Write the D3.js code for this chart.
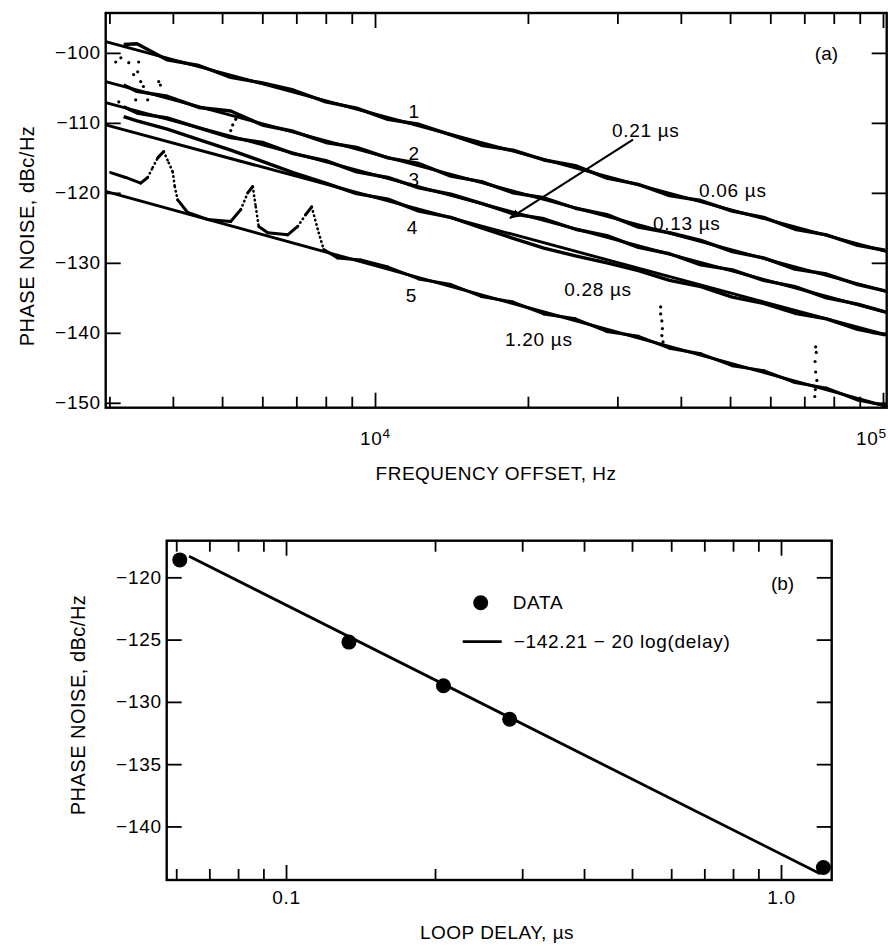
<!DOCTYPE html>
<html>
<head>
<meta charset="utf-8">
<script src="https://cdn.jsdelivr.net/npm/d3@7"></script>
<style>
  body { margin: 0; background: #fff; }
  svg text { font-family: "Liberation Sans", Arial, Helvetica, sans-serif; fill: #000; }
  .wide { letter-spacing: 0.7px; }
  .title { letter-spacing: 0.5px; }
</style>
</head>
<body>
<svg id="chart" width="888" height="948"></svg>
<script>
// ---------- panel (a): phase noise vs frequency offset ----------
var freqA = [3200, 3400, 3900, 4500, 5200, 6000, 6900, 8000, 9200, 10600, 12200, 14100, 16200,
             18700, 21500, 24800, 28600, 33000, 38000, 43800, 50500, 58200, 67100, 77400, 89200, 101000];
var trace1 = [-98.8, -98.7, -101.0, -101.8, -103.5, -104.3, -105.3, -107.0, -107.9, -109.5, -110.2, -111.7, -113.2,
              -113.9, -115.3, -116.1, -117.9, -118.8, -120.4, -121.1, -122.6, -123.5, -125.2, -126.0, -127.5, -128.2];
var trace2 = [-104.6, -105.5, -106.2, -107.8, -108.3, -110.3, -111.2, -112.8, -113.5, -115.0, -115.8, -117.6, -118.4,
              -120.0, -120.7, -122.2, -123.1, -124.9, -125.7, -126.8, -128.4, -129.3, -130.9, -131.6, -133.1, -134.0];
var trace3 = [-107.7, -108.6, -109.3, -110.7, -112.1, -112.8, -114.4, -115.4, -117.0, -117.8, -119.3, -120.2, -121.5,
              -123.0, -123.7, -125.2, -126.1, -127.8, -128.7, -130.3, -131.0, -132.5, -133.4, -135.0, -135.9, -137.0];
var trace4 = [-109.1, -109.7, -110.9, -112.4, -113.9, -115.5, -117.1, -118.6, -120.1, -120.9, -122.6, -123.5, -125.0,
              -126.5, -127.9, -129.0, -130.0, -131.1, -132.5, -133.4, -134.9, -135.8, -137.2, -138.0, -139.5, -140.3];
// trace 5 has its own sampling (the spur humps at the low end)
var freq5 = [3017, 3230, 3457, 3568, 3650, 3735, 3837, 3925, 3997, 4034, 4088, 4277, 4684, 5199, 5441, 5616,
             5745, 5824, 5903, 6149, 6731, 7044, 7304, 7505, 7747, 7925, 8443, 9372, 10600, 12200, 14100,
             16200, 18700, 21500, 24800, 28600, 33000, 38000, 43800, 50500, 58200, 67100, 77400, 89200, 101000];
var trace5 = [-117.1, -117.8, -118.6, -117.8, -116.4, -115.0, -114.1, -115.7, -117.0, -119.1, -121.0, -122.8,
              -123.8, -124.1, -122.4, -120.0, -119.1, -122.0, -124.8, -125.7, -126.0, -124.8, -123.1, -122.0,
              -125.7, -128.1, -129.3, -129.6, -130.6, -132.3, -133.1, -134.8, -135.6, -137.3, -138.0, -139.8,
              -140.5, -142.2, -143.0, -144.7, -145.4, -147.1, -147.9, -149.6, -150.4];

// straight reference lines through each trace (value at each end of the axis)
var fitF = [2950, 101700];
var fitStart = [-98.4, -104.1, -107.1, -110.3, -119.8];
var fitEnd = [-128.4, -134.1, -137.1, -140.3, -150.5];

// isolated spur points
var spurF = [3087, 3275, 3425, 3348, 3410, 3457, 3500, 3751, 3780, 3380, 3568, 3130, 3160,
             5129, 5199, 5246, 5318, 5365,
             36500, 36500, 36700, 36800, 36700, 36900,
             73700, 73900, 73500, 73700, 74100, 73600, 73400];
var spurV = [-101.3, -101.4, -101.3, -103.1, -102.7, -104.1, -104.8, -104.1, -104.6, -106.7, -106.7, -107.0, -100.7,
             -112.0, -111.1, -110.3, -109.5, -109.1,
             -136.3, -137.3, -138.3, -139.4, -140.4, -141.3,
             -142.0, -142.8, -144.1, -145.6, -146.8, -148.1, -149.1];

var traceNums = ["1", "2", "3", "4", "5"];
var delayText = ["0.06 µs", "0.13 µs", "0.21 µs", "0.28 µs", "1.20 µs"];

var aTicksX = [3000, 4000, 5000, 6000, 7000, 8000, 9000, 10000, 20000, 30000, 40000, 50000, 60000, 70000, 80000, 90000, 100000];
var aTicksY = [-150, -140, -130, -120, -110, -100];

// ---------- panel (b): phase noise vs loop delay ----------
var delays = [0.061, 0.134, 0.208, 0.283, 1.218];
var noiseB = [-118.6, -125.2, -128.7, -131.4, -143.3];
var fitDelay = [0.0637, 1.20];
var fitNoise = [-118.3, -143.8];   // -142.21 - 20 log(delay)
var bTicksX = [0.06, 0.07, 0.08, 0.09, 0.1, 0.2, 0.3, 0.4, 0.5, 0.6, 0.7, 0.8, 0.9, 1.0];
var bTicksY = [-140, -135, -130, -125, -120];

var svg = d3.select("#chart");
var INK = "#000";
var FONT = 19;

var xa = d3.scaleLog().domain([2950, 101700]).range([105.7, 886.7]);
var ya = d3.scaleLinear().domain([-150.7, -94.3]).range([407.7, 13]);
var xb = d3.scaleLog().domain([0.0574, 1.266]).range([166.7, 831.7]);
var yb = d3.scaleLinear().domain([-144.3, -117.06]).range([880, 540.7]);

// frame + inward ticks on all four sides
function drawFrame(x, y, xt, xMajor, yt, labY, xlabFmt) {
  var x0 = x.range()[0], x1 = x.range()[1], y0 = y.range()[0], y1 = y.range()[1];
  var g = svg.append("g");

  function style(ax) {
    ax.select(".domain").remove();
    ax.selectAll("line").attr("stroke", INK).attr("stroke-width", 1.8);
    ax.selectAll("text").attr("font-size", FONT).attr("font-family", null).attr("fill", INK)
      .attr("class", "wide");
  }

  var left = g.append("g").attr("transform", "translate(" + x0 + ",0)")
    .call(d3.axisLeft(y).tickValues(yt).tickSizeInner(-15).tickSizeOuter(0).tickPadding(5)
      .tickFormat(function (d) { return "\u2212" + Math.abs(d); }));
  style(left);
  var right = g.append("g").attr("transform", "translate(" + x1 + ",0)")
    .call(d3.axisRight(y).tickValues(yt).tickSizeInner(-15).tickSizeOuter(0).tickFormat(""));
  style(right);

  var bottom = g.append("g").attr("transform", "translate(0," + y0 + ")")
    .call(d3.axisBottom(x).tickValues(xt).tickSizeOuter(0).tickFormat(""));
  var top = g.append("g").attr("transform", "translate(0," + y1 + ")")
    .call(d3.axisTop(x).tickValues(xt).tickSizeOuter(0).tickFormat(""));
  [bottom, top].forEach(function (ax, i) {
    style(ax);
    ax.selectAll(".tick line").attr("y2", function (d) {
      var len = xMajor.indexOf(d) >= 0 ? 15 : 11;
      return i === 0 ? -len : len;
    });
  });
  bottom.selectAll(".tick").filter(function (d) { return xMajor.indexOf(d) >= 0; })
    .select("text").attr("y", labY).each(xlabFmt);

  g.append("rect")
    .attr("x", x0).attr("y", y1).attr("width", x1 - x0).attr("height", y0 - y1)
    .attr("fill", "none").attr("stroke", INK).attr("stroke-width", 2.4);
  return g;
}

// ---------- panel (a) ----------
drawFrame(xa, ya, aTicksX, [10000, 100000], aTicksY, 24, function (d) {
  var t = d3.select(this).text("10");
  if (d === 100000) t.attr("dx", -12);
  t.append("tspan").attr("dy", "-0.55em").attr("font-size", "0.72em").text(Math.round(Math.log10(d)));
});

var plotA = svg.append("g");
var lineA = d3.line().x(function (d) { return xa(d[0]); }).y(function (d) { return ya(d[1]); });

fitStart.forEach(function (v, i) {
  plotA.append("path")
    .attr("d", lineA([[fitF[0], v], [fitF[1], fitEnd[i]]]))
    .attr("fill", "none").attr("stroke", INK).attr("stroke-width", 2.9);
});

[trace1, trace2, trace3, trace4].forEach(function (tr) {
  plotA.append("path")
    .attr("d", lineA(freqA.map(function (f, j) { return [f, tr[j]]; })))
    .attr("fill", "none").attr("stroke", INK).attr("stroke-width", 3.4)
    .attr("stroke-linejoin", "round");
});

// trace 5: steep flanks of the spurs were plotted as sparse dots
var pts5 = freq5.map(function (f, j) { return [f, trace5[j]]; });
d3.pairs(pts5).forEach(function (p) {
  var dx = Math.abs(xa(p[1][0]) - xa(p[0][0])), dy = Math.abs(ya(p[1][1]) - ya(p[0][1]));
  var steep = dy > 1.3 * dx;
  plotA.append("path")
    .attr("d", lineA(p))
    .attr("fill", "none").attr("stroke", INK)
    .attr("stroke-width", steep ? 2.6 : 3.0)
    .attr("stroke-linecap", "round")
    .attr("stroke-dasharray", steep ? "0.5,4" : null);
});

plotA.selectAll("circle.spur")
  .data(spurF.map(function (f, j) { return [f, spurV[j]]; }))
  .enter().append("circle")
  .attr("class", "spur")
  .attr("cx", function (d) { return xa(d[0]); })
  .attr("cy", function (d) { return ya(d[1]); })
  .attr("r", 1.6).attr("fill", INK);

// trace numbers and delay labels (anchored in data units)
var numPos = [[11920, -108.4], [11920, -114.3], [11920, -118.1], [11830, -125.0], [11770, -134.7]];
traceNums.forEach(function (t, i) {
  plotA.append("text").attr("x", xa(numPos[i][0])).attr("y", ya(numPos[i][1]))
    .attr("dy", "0.35em").attr("text-anchor", "middle").attr("font-size", FONT).text(t);
});
var delayPos = [[43430, -119.7, "start"], [35250, -124.3, "start"], [34120, -111.0, "middle"],
                [27480, -133.8, "middle"], [18030, -141.0, "start"]];
delayText.forEach(function (t, i) {
  plotA.append("text").attr("x", xa(delayPos[i][0])).attr("y", ya(delayPos[i][1]))
    .attr("dy", "0.35em").attr("text-anchor", delayPos[i][2]).attr("font-size", FONT)
    .attr("class", "wide").text(t);
});
plotA.append("text").attr("x", xa(77390)).attr("y", ya(-100)).attr("dy", "0.35em")
  .attr("text-anchor", "middle").attr("font-size", FONT).text("(a)");

// arrow pointing at trace 3
svg.append("defs").append("marker").attr("id", "head")
  .attr("viewBox", "0 0 10 10").attr("refX", 9).attr("refY", 5)
  .attr("markerWidth", 5).attr("markerHeight", 5).attr("orient", "auto")
  .append("path").attr("d", "M0,1 L10,5 L0,9 Z").attr("fill", INK);
plotA.append("path")
  .attr("d", lineA([[32200, -112.4], [18440, -123.6]]))
  .attr("stroke", INK).attr("stroke-width", 2.1).attr("fill", "none")
  .attr("marker-end", "url(#head)");

svg.append("text").attr("transform", "translate(34,236) rotate(-90)")
  .attr("text-anchor", "middle").attr("font-size", 20).attr("class", "title")
  .text("PHASE NOISE, dBc/Hz");
svg.append("text").attr("x", 496).attr("y", 480)
  .attr("text-anchor", "middle").attr("font-size", 19).attr("class", "title")
  .text("FREQUENCY OFFSET, Hz");

// ---------- panel (b) ----------
drawFrame(xb, yb, bTicksX, [0.1, 1.0], bTicksY, 11, function (d) {
  d3.select(this).text(d3.format(".1f")(d));
});

var plotB = svg.append("g");
var lineB = d3.line().x(function (d) { return xb(d[0]); }).y(function (d) { return yb(d[1]); });
plotB.append("path")
  .attr("d", lineB(fitDelay.map(function (d, j) { return [d, fitNoise[j]]; })))
  .attr("fill", "none").attr("stroke", INK).attr("stroke-width", 2.8);
plotB.selectAll("circle.pt")
  .data(delays.map(function (d, j) { return [d, noiseB[j]]; }))
  .enter().append("circle").attr("class", "pt")
  .attr("cx", function (d) { return xb(d[0]); })
  .attr("cy", function (d) { return yb(d[1]); })
  .attr("r", 7.5).attr("fill", INK);

// legend
var lg = svg.append("g").attr("transform", "translate(" + (xb.range()[0] + 296) + "," + (yb.range()[1] + 62) + ")");
lg.append("circle").attr("cx", 18).attr("cy", 0).attr("r", 7.5).attr("fill", INK);
lg.append("text").attr("x", 50).attr("y", 0).attr("dy", "0.35em").attr("font-size", FONT)
  .attr("class", "wide").text("DATA");
lg.append("line").attr("x1", 0).attr("x2", 39).attr("y1", 39).attr("y2", 39)
  .attr("stroke", INK).attr("stroke-width", 2.8);
lg.append("text").attr("x", 51).attr("y", 39).attr("dy", "0.35em").attr("font-size", FONT)
  .attr("class", "wide").text("\u2212142.21 \u2212 20 log(delay)");
plotB.append("text").attr("x", xb(1.007)).attr("y", yb(-120.5)).attr("dy", "0.35em")
  .attr("text-anchor", "middle").attr("font-size", FONT).text("(b)");

svg.append("text").attr("transform", "translate(85,705) rotate(-90)")
  .attr("text-anchor", "middle").attr("font-size", 20).attr("class", "title")
  .text("PHASE NOISE, dBc/Hz");
svg.append("text").attr("x", 497).attr("y", 939)
  .attr("text-anchor", "middle").attr("font-size", 19).attr("class", "title")
  .text("LOOP DELAY, µs");
</script>
</body>
</html>
